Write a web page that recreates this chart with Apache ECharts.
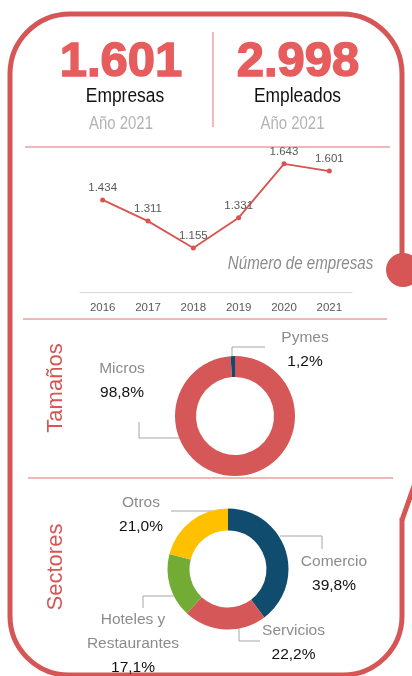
<!DOCTYPE html>
<html><head><meta charset="utf-8">
<script src="https://cdn.jsdelivr.net/npm/echarts@6/dist/echarts.min.js"></script>
<style>html,body{margin:0;padding:0;background:#fff}#c{width:412px;height:676px}</style>
</head><body><div id="c"></div>
<script>
const years = ['2016','2017','2018','2019','2020','2021'];
const empresas = [1434,1311,1155,1331,1643,1601];
const kpiValues = ['1.601','2.998'];
const kpiLabels = ['Empresas','Empleados'];
const kpiSub = ['Año 2021','Año 2021'];
const lineTitle = 'Número de empresas';
const sectionTitles = ['Tamaños','Sectores'];
const tamanosNames = ['Micros','Pymes'];
const tamanosValues = [98.8,1.2];
const sectorNames = ['Comercio','Servicios','Hoteles y Restaurantes','Otros'];
const sectorValues = [39.8,22.2,17.1,21.0];

const SANS = "'Liberation Sans',Arial,sans-serif";
const RED = '#d65656';
const FRAME = '#d65656';
const GRAYLINE = '#a6a6a6';

const thousands = v => String(v).replace(/\B(?=(\d{3})+(?!\d))/g, '.');
const pct = v => v.toFixed(1).replace('.', ',') + '%';

const chart = echarts.init(document.getElementById('c'), null, {renderer:'canvas'});

function txt(text, x, y, font, fill, sx, extra) {
  return {type:'text', x, y, scaleX:sx||1, originX:0, originY:0,
    style:Object.assign({text, x:0, y:0, font, fill, align:'center', verticalAlign:'middle', textAlign:'center', textVerticalAlign:'middle'}, extra||{})};
}
const frameStyle = {stroke:FRAME, lineWidth:5, fill:null};
const graphics = [
  // frame
  {type:'line', shape:{x1:70,y1:14,x2:342,y2:14}, style:frameStyle},
  {type:'arc', shape:{cx:70,cy:74,r:60,startAngle:Math.PI,endAngle:1.5*Math.PI,clockwise:true}, style:frameStyle},
  {type:'arc', shape:{cx:342,cy:74,r:60,startAngle:1.5*Math.PI,endAngle:2*Math.PI,clockwise:true}, style:frameStyle},
  {type:'line', shape:{x1:10,y1:74,x2:10,y2:616}, style:frameStyle},
  {type:'arc', shape:{cx:69,cy:616,r:59,startAngle:0.5*Math.PI,endAngle:Math.PI,clockwise:true}, style:frameStyle},
  {type:'line', shape:{x1:69,y1:675,x2:343,y2:675}, style:frameStyle},
  {type:'arc', shape:{cx:343,cy:616,r:59,startAngle:0,endAngle:0.5*Math.PI,clockwise:true}, style:frameStyle},
  {type:'line', shape:{x1:402,y1:518,x2:402,y2:616}, style:frameStyle},
  {type:'line', shape:{x1:402,y1:520,x2:414,y2:486}, style:frameStyle},
  {type:'line', shape:{x1:402,y1:74,x2:402,y2:262}, style:frameStyle},
  {type:'circle', shape:{cx:403,cy:270,r:17}, style:{fill:FRAME}},
  // separators
  {type:'line', shape:{x1:25,y1:147,x2:390,y2:147}, style:{stroke:'#e07272',lineWidth:1.2}},
  {type:'line', shape:{x1:23,y1:319,x2:387,y2:319}, style:{stroke:'#e07272',lineWidth:1.2}},
  {type:'line', shape:{x1:28,y1:478,x2:393,y2:478}, style:{stroke:'#e07272',lineWidth:1.2}},
  {type:'line', shape:{x1:213,y1:32,x2:213,y2:127}, style:{stroke:'#e8a3a3',lineWidth:1.5}},
  // KPIs
  txt(kpiValues[0], 121, 62, "bold 49px " + SANS, '#e75c5c', 1, {stroke:'#e75c5c', lineWidth:1.5}),
  txt(kpiValues[1], 298, 62, "bold 49px " + SANS, '#e75c5c', 1, {stroke:'#e75c5c', lineWidth:1.5}),
  txt(kpiLabels[0], 125, 96, "20px " + SANS, '#111', 0.87),
  txt(kpiLabels[1], 297.5, 96, "20px " + SANS, '#111', 0.87),
  txt(kpiSub[0], 121, 124, "18px " + SANS, '#b3b3b3', 0.83),
  txt(kpiSub[1], 292.5, 124, "18px " + SANS, '#b3b3b3', 0.83),
  txt(lineTitle, 300.5, 264, "italic 18px " + SANS, '#8c8c8c', 0.84),
  Object.assign(txt(sectionTitles[0], 0, 0, "22px " + SANS, RED), {x:56, y:388, rotation:Math.PI/2}),
  Object.assign(txt(sectionTitles[1], 0, 0, "22px " + SANS, RED), {x:56, y:567, rotation:Math.PI/2})
];

function richLabel(p) {
  const parts = p.name.replace(' y ', ' y\n').split('\n').map(s => '{n|' + s + '}');
  return parts.join('\n') + '\n{v|' + pct(p.value) + '}';
}
const rich = {
  n:{fontFamily:SANS, fontSize:15.5, color:'#8c8c8c', lineHeight:24},
  v:{fontFamily:SANS, fontSize:15.5, color:'#111', lineHeight:24}
};
const tamLayout = [
  {x:122, y:380.5, pts:[[179,438],[139,438],[139,422]]},
  {x:305, y:350, pts:[[232,356],[232,347],[265,347]]}
];
const secLayout = [
  {x:334, y:574, pts:[[280,536],[322,536],[322,549]]},
  {x:293.5, y:643, pts:[[239,628],[239,641],[260,641]]},
  {x:133, y:644, pts:[[174,596],[143,596],[143,608]]},
  {x:141, y:515, pts:[[213,511],[171,511]]}
];
function layoutFn(L) {
  return p => ({x:L[p.dataIndex].x, y:L[p.dataIndex].y, align:'center', verticalAlign:'middle', labelLinePoints:L[p.dataIndex].pts});
}

chart.setOption({
  animation:false,
  backgroundColor:'#fff',
  graphic:{elements:graphics},
  grid:{left:80, right:60, top:154, bottom:384},
  xAxis:{type:'category', data:years, boundaryGap:true,
    axisLine:{lineStyle:{color:'#d9d9d9', width:1}}, axisTick:{show:false},
    axisLabel:{color:'#595959', fontFamily:SANS, fontSize:11.5, margin:10}},
  yAxis:{type:'value', min:900, max:1700, show:false, splitLine:{show:false}},
  series:[
    {type:'line', data:empresas, symbol:'circle', symbolSize:5, itemStyle:{color:'#d9534f'},
      lineStyle:{color:'#d9534f', width:1.8},
      label:{show:true, position:'top', distance:3.5, color:'#595959', fontFamily:SANS, fontSize:11.5,
        formatter:p => thousands(p.value)}},
    {type:'pie', center:[235,416], radius:[39,60], startAngle:90, clockwise:true, avoidLabelOverlap:false,
      data:tamanosNames.map((n,i)=>({name:n, value:tamanosValues[i]})),
      color:['#d65757','#0f4c6e'],
      label:{show:true, position:'outside', formatter:richLabel, rich},
      labelLine:{show:true, lineStyle:{color:GRAYLINE, width:1}},
      labelLayout:layoutFn(tamLayout),
      emphasis:{disabled:true}},
    {type:'pie', center:[228,569], radius:[38.5,60.5], startAngle:90, clockwise:true, avoidLabelOverlap:false,
      data:sectorNames.map((n,i)=>({name:n, value:sectorValues[i]})),
      color:['#0f4c6e','#d65757','#72ac34','#ffc000'],
      label:{show:true, position:'outside', formatter:richLabel, rich},
      labelLine:{show:true, lineStyle:{color:GRAYLINE, width:1}},
      labelLayout:layoutFn(secLayout),
      emphasis:{disabled:true}}
  ]
});
</script></body></html>
